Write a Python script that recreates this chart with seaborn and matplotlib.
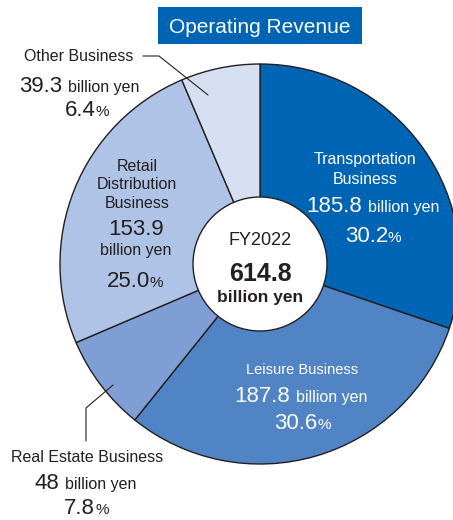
import matplotlib
matplotlib.use('Agg')
import matplotlib.pyplot as plt
import seaborn as sns
from matplotlib.patches import Rectangle, Circle

# data (FY2022 operating revenue, billion yen)
categories = ['Transportation Business', 'Leisure Business', 'Real Estate Business',
              'Retail Distribution Business', 'Other Business']
values = [185.8, 187.8, 48, 153.9, 39.3]
percents = [30.2, 30.6, 7.8, 25.0, 6.4]
total_label = '614.8'
fiscal_year = 'FY2022'
title = 'Operating Revenue'
colors = ['#0064B4', '#5184C5', '#7E9ED4', '#AFC3E6', '#D6DFF1']

DARK = '#231F20'

sns.set_theme(style='white')
plt.rcParams['font.family'] = ['Liberation Sans', 'DejaVu Sans']

fig = plt.figure(figsize=(4.53, 5.2), dpi=100)
ax = fig.add_axes([0, 0, 1, 1])

cx, cy, r = 260, 264, 200
# y axis is inverted, so counterclock=True draws clockwise on screen
ax.pie(values, colors=colors, startangle=-90, counterclock=True,
       center=(cx, cy), radius=r, frame=True,
       wedgeprops=dict(edgecolor=DARK, linewidth=1.0))
ax.set_xlim(0, 453)
ax.set_ylim(520, 0)
ax.set_aspect('equal')
ax.axis('off')

# hole
ax.add_patch(Circle((cx, cy), 67, facecolor='white', edgecolor=DARK, linewidth=1.0, zorder=5))

# title box
ax.add_patch(Rectangle((158, 7), 204, 37, facecolor='#0064B4', edgecolor='none', zorder=6))
ax.text(260, 33, title, color='white', fontsize=15, ha='center', va='baseline', zorder=7)


def pair(xs, y, big, small, color, big_size=16, small_size=11.5, gap=6):
    ax.text(xs, y, big, ha='right', va='baseline', fontsize=big_size, color=color, zorder=7)
    ax.text(xs + gap, y, small, ha='left', va='baseline', fontsize=small_size, color=color, zorder=7)


def lbl(x, y, s, color, size=11.5, **kw):
    ax.text(x, y, s, ha='center', va='baseline', fontsize=size, color=color, zorder=7, **kw)


def num(v):
    return f'{v:g}'


# Transportation
lbl(365, 164, 'Transportation', 'white')
lbl(365, 184, 'Business', 'white')
pair(362, 212, num(values[0]), 'billion yen', 'white')
pair(388, 242, f'{percents[0]:.1f}', '%', 'white', small_size=11, gap=0)

# Leisure
lbl(302, 374, categories[1], 'white', size=10.5)
pair(290, 402, num(values[1]), 'billion yen', 'white')
pair(317, 429, f'{percents[1]:.1f}', '%', 'white', small_size=11, gap=0)

# Real Estate
lbl(87, 462, categories[2], DARK)
pair(59, 489, num(values[2]), 'billion yen', DARK)
pair(95, 514, f'{percents[2]:.1f}', '%', DARK, small_size=11, gap=0)
ax.plot([113, 86, 86], [385, 408, 441], color=DARK, lw=0.8, zorder=7)

# Retail Distribution
lbl(137, 171, 'Retail', DARK)
lbl(137, 189, 'Distribution', DARK)
lbl(137, 208, 'Business', DARK)
lbl(136, 235, num(values[3]), DARK, size=16)
lbl(136, 255, 'billion yen', DARK)
pair(150, 287, f'{percents[3]:.1f}', '%', DARK, small_size=11, gap=0)

# Other
lbl(79, 61, categories[4], DARK)
pair(62, 92, num(values[4]), 'billion yen', DARK)
pair(96, 116, f'{percents[4]:.1f}', '%', DARK, small_size=11, gap=0)
ax.plot([143, 159, 208], [56, 56, 95], color=DARK, lw=0.8, zorder=7)

# center
lbl(260, 245, fiscal_year, DARK, size=13)
lbl(260, 281, total_label, DARK, size=18, fontweight='bold')
lbl(260, 302, 'billion yen', DARK, size=12.5, fontweight='bold')

fig.savefig('out.png', dpi=100, facecolor='white')
